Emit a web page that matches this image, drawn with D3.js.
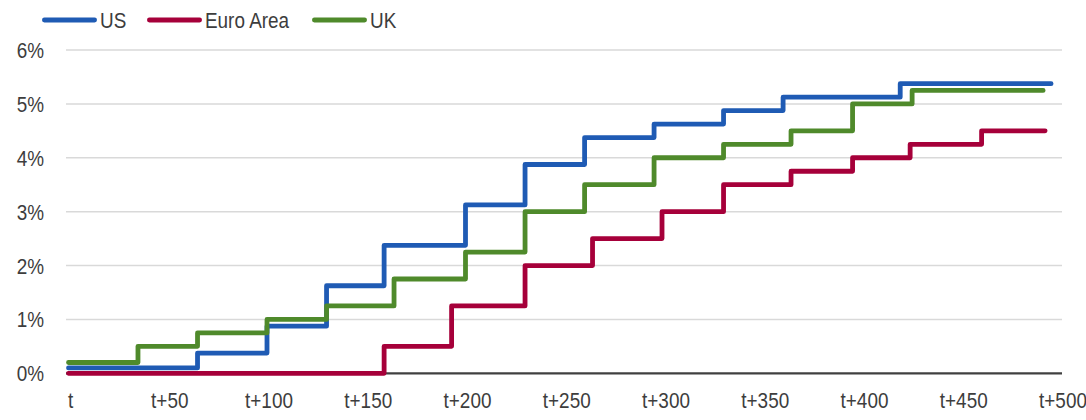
<!DOCTYPE html>
<html>
<head>
<meta charset="utf-8">
<script src="https://cdn.jsdelivr.net/npm/d3@7"></script>
<style>
  html, body { margin: 0; padding: 0; background: #fff; }
  svg text { font-family: "Liberation Sans", Arial, sans-serif; fill: #3d3d3d; }
</style>
</head>
<body>
<svg id="chart" width="1086" height="420"></svg>
<script>
// Policy-rate paths, measured in days after the first hike (t)
const usDays    = [0, 65, 100, 130, 159, 200, 230, 260, 295, 330, 360, 419];
const usRates   = [0.1, 0.375, 0.875, 1.625, 2.375, 3.125, 3.875, 4.375, 4.625, 4.875, 5.125, 5.375];
const usEnd     = 495;

const euroDays  = [0, 159, 193, 230, 264, 299, 330, 364, 395, 424, 460];
const euroRates = [0, 0.5, 1.25, 2.0, 2.5, 3.0, 3.5, 3.75, 4.0, 4.25, 4.5];
const euroEnd   = 492;

const ukDays    = [0, 35, 65, 100, 130, 164, 200, 230, 260, 295, 330, 364, 395, 425];
const ukRates   = [0.2, 0.5, 0.75, 1.0, 1.25, 1.75, 2.25, 3.0, 3.5, 4.0, 4.25, 4.5, 5.0, 5.25];
const ukEnd     = 491;

const xTickValues = [0, 50, 100, 150, 200, 250, 300, 350, 400, 450, 500];
const xTickLabels = ["t", "t+50", "t+100", "t+150", "t+200", "t+250", "t+300", "t+350", "t+400", "t+450", "t+500"];
const yTickValues = [0, 1, 2, 3, 4, 5, 6];

const seriesNames  = ["US", "Euro Area", "UK"];
const seriesColors = ["#1f5bb4", "#a6003a", "#4f8a2b"];

// horizontal squeeze that gives the labels a condensed look
const NARROW = 0.86;

function toPoints(days, rates, end) {
  const pts = days.map((d, i) => [d, rates[i]]);
  pts.push([end, rates[rates.length - 1]]);
  return pts;
}
const series = [
  toPoints(usDays, usRates, usEnd),
  toPoints(euroDays, euroRates, euroEnd),
  toPoints(ukDays, ukRates, ukEnd)
];

const svg = d3.select("#chart");
const plotLeft = 66, plotRight = 1062;

const x = d3.scaleLinear().domain([0, 500]).range([68.5, 1061]);
const y = d3.scaleLinear().domain([0, 6]).range([373.3, 50]);

// horizontal gridlines
svg.append("g")
  .selectAll("line")
  .data(yTickValues.filter(v => v > 0))
  .join("line")
  .attr("x1", plotLeft).attr("x2", plotRight)
  .attr("y1", d => y(d)).attr("y2", d => y(d))
  .attr("stroke", "#d9d9d9").attr("stroke-width", 1.5);

// y axis labels
const yAxis = d3.axisLeft(y).tickValues(yTickValues).tickFormat(d => d + "%").tickSize(0).tickPadding(0);
svg.append("g")
  .attr("transform", "translate(44,0)")
  .call(yAxis)
  .call(g => g.select(".domain").remove())
  .call(g => g.selectAll("text")
        .attr("x", 0).attr("font-size", 22).attr("dy", "0.34em")
        .attr("transform", `scale(${NARROW},1)`));

// x axis labels
const xAxis = d3.axisBottom(x).tickValues(xTickValues)
  .tickFormat((d, i) => xTickLabels[i]).tickSize(0).tickPadding(0);
svg.append("g")
  .attr("transform", "translate(1.5,392)")
  .call(xAxis)
  .call(g => g.select(".domain").remove())
  .call(g => g.selectAll("text")
        .attr("y", 0).attr("font-size", 22).attr("dy", "0.71em")
        .attr("transform", `scale(${NARROW},1)`));

// baseline
svg.append("line")
  .attr("x1", plotLeft).attr("x2", plotRight)
  .attr("y1", y(0)).attr("y2", y(0))
  .attr("stroke", "#404040").attr("stroke-width", 2.2);

// step lines
const line = d3.line()
  .x(d => x(d[0]))
  .y(d => y(d[1]))
  .curve(d3.curveStepAfter);

svg.append("g")
  .selectAll("path")
  .data(series)
  .join("path")
  .attr("d", line)
  .attr("fill", "none")
  .attr("stroke", (d, i) => seriesColors[i])
  .attr("stroke-width", 4.8)
  .attr("stroke-linejoin", "round")
  .attr("stroke-linecap", "round");

// legend
const legendX = [42, 147, 312];
seriesNames.forEach((name, i) => {
  const item = svg.append("g").attr("transform", `translate(${legendX[i]},20)`);
  item.append("line")
    .attr("x1", 2.4).attr("x2", 52.6)
    .attr("y1", 0).attr("y2", 0)
    .attr("stroke", seriesColors[i]).attr("stroke-width", 4.8)
    .attr("stroke-linecap", "round");
  item.append("g").attr("transform", "translate(58,0)")
    .append("text")
    .attr("dy", "0.35em")
    .attr("font-size", 22)
    .attr("transform", `scale(${NARROW},1)`)
    .text(name);
});
</script>
</body>
</html>
